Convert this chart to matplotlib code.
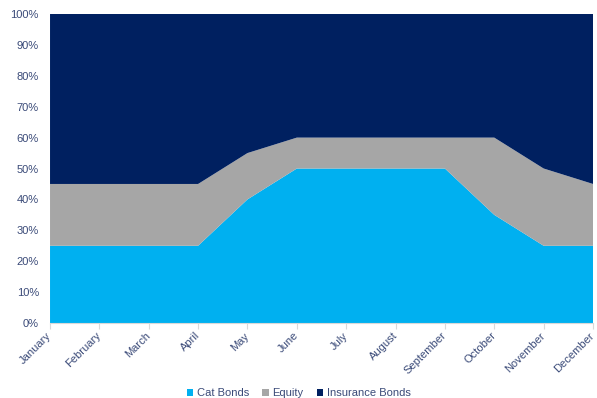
import matplotlib
matplotlib.use("Agg")
import matplotlib.pyplot as plt
import numpy as np
from matplotlib.ticker import PercentFormatter
from matplotlib.patches import Patch

plt.rcParams['font.family'] = ['Liberation Sans', 'DejaVu Sans']

months = ["January", "February", "March", "April", "May", "June", "July",
          "August", "September", "October", "November", "December"]
cat_bonds = [25, 25, 25, 25, 40, 50, 50, 50, 50, 35, 25, 25]
equity = [20, 20, 20, 20, 15, 10, 10, 10, 10, 25, 25, 20]
insurance_bonds = [55, 55, 55, 55, 45, 40, 40, 40, 40, 40, 50, 55]

series_names = ["Cat Bonds", "Equity", "Insurance Bonds"]
colors = ["#00B0F0", "#A6A6A6", "#002060"]
text_col = "#3A4A78"

fig = plt.figure(figsize=(5.97, 3.98), dpi=100)
ax = fig.add_axes([0.0838, 0.1884, 0.9095, 0.7764])

x = np.arange(len(months))
ax.stackplot(x, cat_bonds, equity, insurance_bonds, colors=colors, linewidth=0)

ax.set_xlim(0, len(months) - 1)
ax.set_ylim(0, 100)
ax.set_yticks(np.arange(0, 101, 10))
ax.yaxis.set_major_formatter(PercentFormatter(decimals=0))
ax.set_xticks(x)
ax.set_xticklabels([])

# month labels drawn by hand so they can sit a bit left of the tick (Excel style)
for xi, m in zip(x, months):
    ax.annotate(m, xy=(xi, 0), xycoords=("data", "axes fraction"),
                xytext=(0, -8), textcoords="offset points",
                rotation=45, ha="right", va="center", rotation_mode="anchor",
                fontsize=8, color=text_col, annotation_clip=False)

for s in ["top", "right", "left"]:
    ax.spines[s].set_visible(False)
ax.spines["bottom"].set_color("#D9D9D9")
ax.tick_params(axis="y", length=0, labelsize=8, labelcolor=text_col, pad=8)
ax.tick_params(axis="x", length=4, color="#D9D9D9")

handles = [Patch(facecolor=c, edgecolor="none") for c in colors]
fig.legend(handles, series_names, loc="lower center", bbox_to_anchor=(0.5, -0.025),
           ncol=3, frameon=False, fontsize=8, labelcolor=text_col,
           handlelength=0.6, handleheight=0.6, handletextpad=0.3, columnspacing=1.2)

fig.savefig("out.png", dpi=100)
